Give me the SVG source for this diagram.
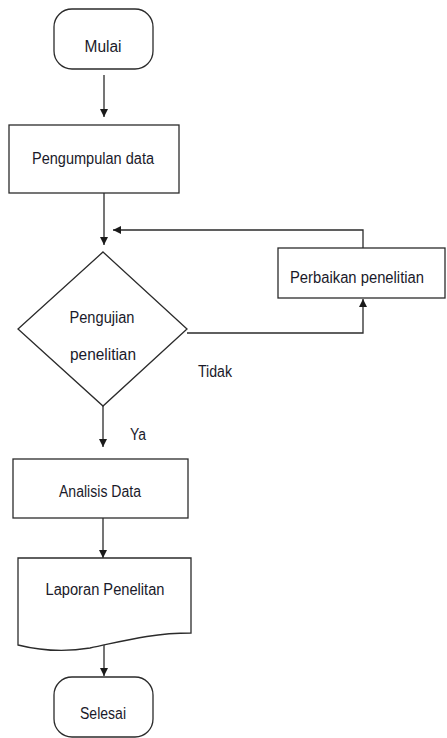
<svg xmlns="http://www.w3.org/2000/svg" width="447" height="738" viewBox="0 0 447 738">
<style>
.s{fill:#fff;stroke:#2b2b2b;stroke-width:1.3}
.c{fill:none;stroke:#2b2b2b;stroke-width:1.3}
.t{font-family:"Liberation Sans",Arial,sans-serif;font-size:16px;fill:#1a1a2a;text-anchor:middle}
.l{font-family:"Liberation Sans",Arial,sans-serif;font-size:16px;fill:#1a1a2a}
</style>
<defs>
<marker id="ah" viewBox="0 0 10 10" refX="10" refY="5" markerWidth="8" markerHeight="8" markerUnits="userSpaceOnUse" orient="auto">
<path d="M0,0 L10,5 L0,10 z" fill="#1a1a1a"/>
</marker>
</defs>
<rect width="447" height="738" fill="#fff"/>
<g id="connectors">
<path class="c" d="M104,75 V117" marker-end="url(#ah)"/>
<path class="c" d="M104,193 V245" marker-end="url(#ah)"/>
<path class="c" d="M363,248 V230 H113" marker-end="url(#ah)"/>
<path class="c" d="M187,333 H363 V299" marker-end="url(#ah)"/>
<path class="c" d="M103,406 V447" marker-end="url(#ah)"/>
<path class="c" d="M103,518 V558" marker-end="url(#ah)"/>
<path class="c" d="M104,641 V676" marker-end="url(#ah)"/>
</g>
<g id="mulai">
<rect class="s" x="54" y="9" width="99" height="60" rx="18" ry="18"/>
<text class="t" x="103" y="52" textLength="37" lengthAdjust="spacingAndGlyphs">Mulai</text>
</g>
<g id="pengumpulan">
<rect class="s" x="9" y="125" width="170" height="68"/>
<text class="t" x="93" y="164" textLength="122" lengthAdjust="spacingAndGlyphs">Pengumpulan data</text>
</g>
<g id="pengujian">
<polygon class="s" points="103,252 187,329 103,406 18,329"/>
<text class="t" x="102" y="323" textLength="65" lengthAdjust="spacingAndGlyphs">Pengujian</text>
<text class="t" x="103" y="360" textLength="66" lengthAdjust="spacingAndGlyphs">penelitian</text>
</g>
<g id="perbaikan">
<rect class="s" x="278" y="248" width="167" height="50"/>
<text class="t" x="357" y="283" textLength="134" lengthAdjust="spacingAndGlyphs">Perbaikan penelitian</text>
</g>
<g id="label-tidak">
<text class="l" x="198" y="377" textLength="34" lengthAdjust="spacingAndGlyphs">Tidak</text>
</g>
<g id="label-ya">
<text class="l" x="130" y="440" textLength="16" lengthAdjust="spacingAndGlyphs">Ya</text>
</g>
<g id="analisis">
<rect class="s" x="13" y="459" width="175" height="59"/>
<text class="t" x="100" y="497" textLength="82" lengthAdjust="spacingAndGlyphs">Analisis Data</text>
</g>
<g id="laporan">
<path class="s" d="M18,558 H191 V633 C150,633 120,642 90,648 C55,654 30,648 18,645 Z"/>
<text class="t" x="105" y="595" textLength="119" lengthAdjust="spacingAndGlyphs">Laporan Penelitan</text>
</g>
<g id="selesai">
<rect class="s" x="54" y="677" width="99" height="60" rx="18" ry="18"/>
<text class="t" x="103" y="719" textLength="46" lengthAdjust="spacingAndGlyphs">Selesai</text>
</g>
</svg>
